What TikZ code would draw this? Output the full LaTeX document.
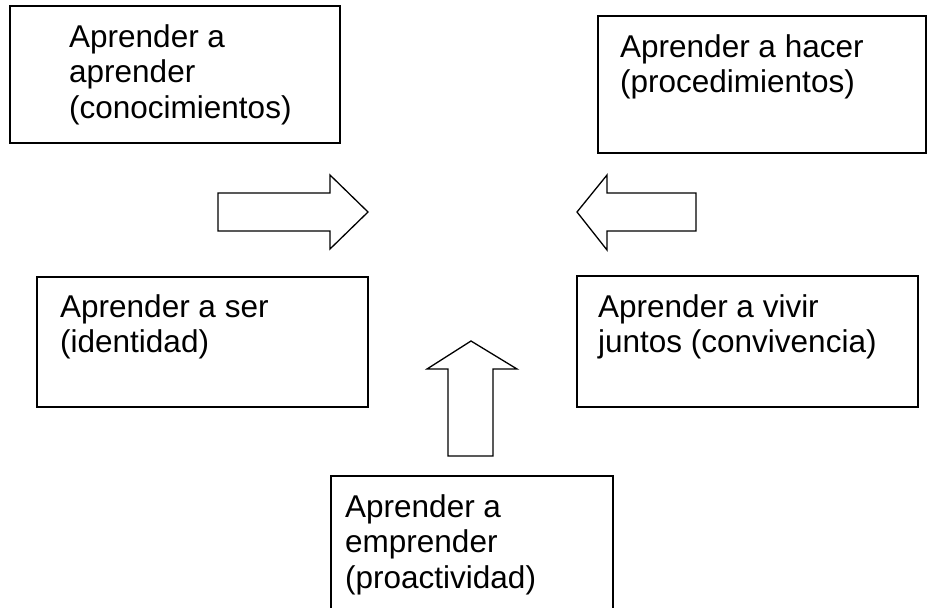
\documentclass[tikz,border=0pt]{standalone}
\usepackage{fontspec}
\setmainfont{Liberation Sans}
\begin{document}
\begin{tikzpicture}[x=1pt,y=-1pt,
  box/.style={draw, line width=1.3pt, inner sep=0pt},
  txt/.style={anchor=base west, align=left, inner sep=0pt, font=\fontsize{31.5}{35.5}\selectfont},
  blk/.style={draw, line width=1.3pt, line join=miter}]
\useasboundingbox (0,0) rectangle (927,608);
\clip (0,0) rectangle (927,608);
% boxes
\node[box, minimum width=330pt, minimum height=137pt] (b1) at (175,74.5) {};
\node[box, minimum width=328pt, minimum height=137pt] (b2) at (762,84.5) {};
\node[box, minimum width=331pt, minimum height=130pt] (b3) at (202.5,342) {};
\node[box, minimum width=341pt, minimum height=131pt] (b4) at (747.5,341.5) {};
\node[box, minimum width=282pt, minimum height=140pt] (b5) at (472,546) {};
% texts (anchored at the baseline of the last line)
\node[txt] (t1) at (69,118) {Aprender a\\aprender\\(conocimientos)};
\node[txt] (t2) at (620,92.5) {Aprender a hacer\\(procedimientos)};
\node[txt] (t3) at (60,352.5) {Aprender a ser\\(identidad)};
\node[txt] (t4) at (598,352.5) {Aprender a vivir\\juntos (convivencia)};
\node[txt] (t5) at (345,588) {Aprender a\\emprender\\(proactividad)};
% block arrows
\draw[blk] (218,193) -- (330,193) -- (330,175) -- (368,212) -- (330,249) -- (330,231) -- (218,231) -- cycle;
\draw[blk] (696,193) -- (607,193) -- (607,175) -- (577,212) -- (607,250) -- (607,231) -- (696,231) -- cycle;
\draw[blk] (448,456) -- (448,369) -- (427,369) -- (471,341) -- (517,369) -- (493,369) -- (493,456) -- cycle;
\end{tikzpicture}
\end{document}
